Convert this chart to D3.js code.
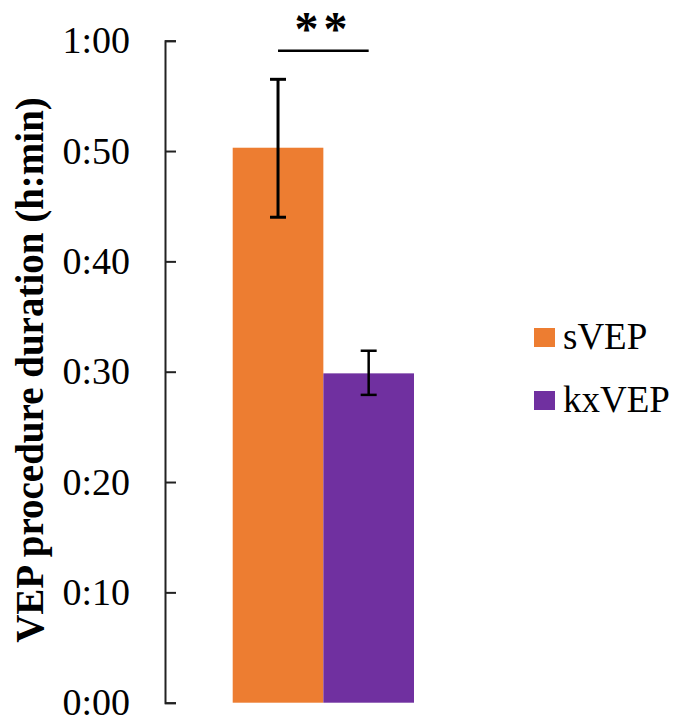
<!DOCTYPE html>
<html>
<head>
<meta charset="utf-8">
<script src="https://cdn.jsdelivr.net/npm/d3@7"></script>
<style>
  html, body { margin: 0; padding: 0; background: #fff; }
  svg { display: block; }
  text { font-family: "Liberation Serif", "Times New Roman", serif; fill: #000; }
</style>
</head>
<body>
<svg id="chart" width="691" height="718"></svg>
<script>
// Procedure duration in minutes (mean with error bar bounds)
const categories = ["sVEP", "kxVEP"];
const means = [50.3, 29.85];
const errLow = [44.0, 27.9];
const errHigh = [56.5, 31.9];
const colors = ["#ED7D31", "#7030A0"];
const tickValues = [0, 10, 20, 30, 40, 50, 60];
const tickLabels = ["0:00", "0:10", "0:20", "0:30", "0:40", "0:50", "1:00"];
const yTitle = "VEP procedure duration (h:min)";
const significance = "**";

const serif = "'Liberation Serif', 'Times New Roman', serif";
const svg = d3.select("#chart");

const y = d3.scaleLinear().domain([0, 60]).range([702.7, 40.7]);
const x = d3.scaleBand().domain(categories).range([232.7, 414]).padding(0);

// y axis with inward ticks
const axis = d3.axisLeft(y)
  .tickValues(tickValues)
  .tickFormat((d, i) => tickLabels[i])
  .tickSizeInner(-11)
  .tickSizeOuter(-11)
  .tickPadding(35);

const gAxis = svg.append("g")
  .attr("transform", "translate(165,0)")
  .call(axis);
gAxis.select(".domain").attr("stroke", "#222").attr("stroke-width", 2);
gAxis.selectAll(".tick line").attr("stroke", "#222").attr("stroke-width", 2);
gAxis.selectAll(".tick text")
  .style("font-family", serif)
  .style("font-size", "38px")
  .attr("fill", "#000");

// bars
svg.append("g").selectAll("rect")
  .data(categories)
  .join("rect")
  .attr("x", d => x(d))
  .attr("width", x.bandwidth())
  .attr("y", (d, i) => y(means[i]))
  .attr("height", (d, i) => y(0) - y(means[i]))
  .attr("fill", (d, i) => colors[i]);

// error bars
const capW = 16;
const eb = svg.append("g").attr("stroke", "#000");
categories.forEach((c, i) => {
  const cx = x(c) + x.bandwidth() / 2;
  const sw = i === 0 ? 3 : 2.5;
  eb.append("line").attr("x1", cx).attr("x2", cx)
    .attr("y1", y(errHigh[i])).attr("y2", y(errLow[i])).attr("stroke-width", sw);
  [errHigh[i], errLow[i]].forEach(v => {
    eb.append("line").attr("x1", cx - capW / 2).attr("x2", cx + capW / 2)
      .attr("y1", y(v)).attr("y2", y(v)).attr("stroke-width", sw);
  });
});

// significance bracket between the two bar centres
const cx0 = x(categories[0]) + x.bandwidth() / 2;
const cx1 = x(categories[1]) + x.bandwidth() / 2;
svg.append("line")
  .attr("x1", cx0).attr("x2", cx1)
  .attr("y1", 50.7).attr("y2", 50.7)
  .attr("stroke", "#000").attr("stroke-width", 2.5);
svg.append("text")
  .attr("x", 294.5)
  .attr("y", 45)
  .attr("text-anchor", "start")
  .style("font-size", "48px")
  .style("font-weight", "bold")
  .style("letter-spacing", "5px")
  .text(significance);

// y axis title
svg.append("text")
  .attr("transform", "translate(43,370) rotate(-90)")
  .attr("text-anchor", "middle")
  .style("font-size", "39px")
  .style("font-weight", "bold")
  .text(yTitle);

// legend
const legend = svg.append("g");
categories.forEach((c, i) => {
  const ly = 328 + i * 63;
  legend.append("rect")
    .attr("x", 534).attr("y", ly)
    .attr("width", 21).attr("height", 19)
    .attr("fill", colors[i]);
  legend.append("text")
    .attr("x", 563).attr("y", ly + 21)
    .style("font-size", "37px")
    .text(c);
});
</script>
</body>
</html>
